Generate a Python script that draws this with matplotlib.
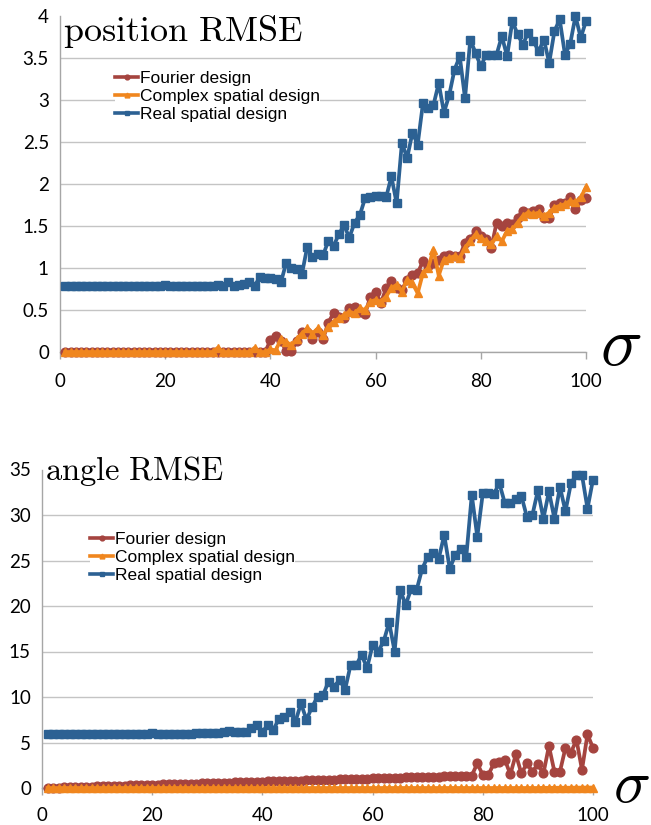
import matplotlib
matplotlib.use("Agg")
import matplotlib.pyplot as plt

plt.rcParams["mathtext.fontset"] = "cm"

SIGMA = list(range(1, 101))

LABELS = ["Fourier design", "Complex spatial design", "Real spatial design"]
COLORS = ["#a5443f", "#f0861e", "#2c6193"]
MARKERS = ["o", "^", "s"]

# position RMSE (top)
POS_FOURIER = [
    0.0, 0.0, 0.0, 0.0, 0.0, 0.0, 0.0, 0.0, 0.0, 0.0,
    0.0, 0.0, 0.0, 0.0, 0.0, 0.0, 0.0, 0.0, 0.0, 0.0,
    0.0, 0.0, 0.0, 0.0, 0.0, 0.0, 0.0, 0.0, 0.0, 0.0,
    0.0, 0.0, 0.0, 0.0, 0.0, 0.0, 0.0, 0.0, 0.0, 0.14,
    0.19, 0.13, 0.01, 0.01, 0.13, 0.24, 0.24, 0.15, 0.24, 0.15,
    0.35, 0.46, 0.42, 0.40, 0.52, 0.54, 0.48, 0.45, 0.66, 0.72,
    0.58, 0.76, 0.84, 0.76, 0.74, 0.86, 0.92, 0.94, 1.08, 1.02,
    1.06, 1.10, 1.14, 1.16, 1.14, 1.14, 1.30, 1.34, 1.44, 1.38,
    1.34, 1.24, 1.54, 1.50, 1.54, 1.52, 1.60, 1.68, 1.66, 1.68,
    1.70, 1.60, 1.60, 1.75, 1.77, 1.77, 1.85, 1.70, 1.81, 1.83,
]
POS_COMPLEX = [
    0.0, 0.0, 0.0, 0.0, 0.0, 0.0, 0.0, 0.0, 0.0, 0.0,
    0.0, 0.0, 0.0, 0.0, 0.0, 0.0, 0.0, 0.0, 0.0, 0.0,
    0.0, 0.0, 0.0, 0.0, 0.0, 0.0, 0.0, 0.0, 0.0, 0.05,
    0.0, 0.0, 0.0, 0.0, 0.0, 0.0, 0.05, 0.0, 0.0, 0.03,
    0.02, 0.15, 0.12, 0.08, 0.15, 0.22, 0.28, 0.22, 0.28, 0.20,
    0.30, 0.36, 0.40, 0.44, 0.48, 0.46, 0.52, 0.50, 0.60, 0.62,
    0.60, 0.66, 0.76, 0.80, 0.72, 0.86, 0.82, 0.70, 0.94, 1.00,
    1.22, 0.91, 1.10, 1.12, 1.14, 1.12, 1.24, 1.32, 1.40, 1.36,
    1.32, 1.28, 1.38, 1.32, 1.44, 1.46, 1.54, 1.62, 1.66, 1.64,
    1.66, 1.62, 1.66, 1.72, 1.74, 1.76, 1.80, 1.78, 1.84, 1.96,
]
POS_REAL = [
    0.78, 0.78, 0.78, 0.78, 0.78, 0.78, 0.78, 0.78, 0.78, 0.78,
    0.78, 0.78, 0.78, 0.78, 0.78, 0.78, 0.78, 0.78, 0.78, 0.80,
    0.79, 0.79, 0.78, 0.78, 0.78, 0.78, 0.78, 0.78, 0.78, 0.80,
    0.79, 0.83, 0.79, 0.80, 0.81, 0.83, 0.79, 0.89, 0.88, 0.88,
    0.87, 0.83, 1.06, 1.00, 0.99, 0.93, 1.25, 1.13, 1.17, 1.15,
    1.32, 1.26, 1.40, 1.51, 1.36, 1.54, 1.63, 1.83, 1.85, 1.86,
    1.86, 1.84, 2.09, 1.77, 2.49, 2.31, 2.61, 2.47, 2.96, 2.90,
    2.94, 3.20, 2.85, 3.06, 3.36, 3.52, 3.02, 3.72, 3.56, 3.40,
    3.54, 3.54, 3.54, 3.76, 3.52, 3.94, 3.78, 3.66, 3.80, 3.70,
    3.58, 3.72, 3.44, 3.82, 3.96, 3.54, 3.67, 4.00, 3.74, 3.94,
]

# angle RMSE (bottom)
ANG_FOURIER = [
    0.02, 0.04, 0.05, 0.07, 0.09, 0.11, 0.12, 0.14, 0.16, 0.18,
    0.19, 0.21, 0.23, 0.25, 0.26, 0.28, 0.30, 0.32, 0.33, 0.35,
    0.37, 0.39, 0.40, 0.42, 0.44, 0.46, 0.47, 0.49, 0.51, 0.53,
    0.54, 0.56, 0.58, 0.60, 0.61, 0.63, 0.65, 0.67, 0.68, 0.70,
    0.72, 0.74, 0.75, 0.77, 0.79, 0.81, 0.82, 0.84, 0.86, 0.88,
    0.89, 0.91, 0.93, 0.95, 0.96, 0.98, 1.00, 1.02, 1.03, 1.05,
    1.07, 1.09, 1.10, 1.12, 1.14, 1.16, 1.17, 1.19, 1.21, 1.23,
    1.24, 1.26, 1.28, 1.30, 1.31, 1.33, 1.35, 1.37, 2.70, 1.43,
    1.43, 2.70, 2.90, 3.10, 1.50, 3.70, 1.60, 2.70, 1.80, 2.60,
    1.60, 4.60, 1.80, 1.80, 4.40, 3.90, 5.30, 2.00, 5.90, 4.40,
]
ANG_COMPLEX = [
    0.0, 0.0, 0.0, 0.0, 0.0, 0.0, 0.0, 0.0, 0.0, 0.0,
    0.0, 0.0, 0.0, 0.0, 0.0, 0.0, 0.0, 0.0, 0.0, 0.0,
    0.0, 0.0, 0.0, 0.0, 0.0, 0.0, 0.0, 0.0, 0.0, 0.0,
    0.0, 0.0, 0.0, 0.0, 0.0, 0.0, 0.0, 0.0, 0.0, 0.0,
    0.0, 0.0, 0.0, 0.0, 0.0, 0.0, 0.0, 0.0, 0.0, 0.0,
    0.0, 0.0, 0.0, 0.0, 0.0, 0.0, 0.0, 0.0, 0.0, 0.0,
    0.0, 0.0, 0.0, 0.0, 0.0, 0.0, 0.0, 0.0, 0.0, 0.0,
    0.0, 0.0, 0.0, 0.0, 0.0, 0.0, 0.0, 0.0, 0.0, 0.0,
    0.0, 0.0, 0.0, 0.0, 0.0, 0.0, 0.0, 0.0, 0.0, 0.0,
    0.02, 0.02, 0.02, 0.03, 0.03, 0.03, 0.04, 0.04, 0.05, 0.05,
]
ANG_REAL = [
    5.9, 5.9, 5.9, 5.9, 5.9, 5.9, 5.9, 5.9, 5.9, 5.9,
    5.9, 5.9, 5.9, 5.9, 5.9, 5.9, 5.9, 5.9, 5.9, 6.0,
    5.9, 5.9, 5.9, 5.9, 5.9, 5.9, 5.9, 6.0, 6.0, 6.0,
    6.0, 6.0, 6.1, 6.3, 6.1, 6.1, 6.2, 6.6, 6.9, 6.2,
    6.9, 6.4, 7.6, 7.8, 8.4, 7.3, 9.3, 7.5, 8.9, 10.0,
    10.2, 11.7, 11.1, 11.9, 10.8, 13.5, 13.5, 14.6, 13.2, 15.7,
    15.0, 16.1, 18.2, 15.0, 21.8, 20.1, 21.9, 21.8, 24.1, 25.4,
    25.8, 25.2, 27.8, 24.1, 25.6, 26.3, 25.4, 32.2, 27.6, 32.4,
    32.4, 32.3, 33.5, 31.3, 31.3, 31.8, 32.1, 29.8, 30.0, 32.7,
    29.6, 32.6, 29.6, 33.1, 30.4, 33.5, 34.4, 34.4, 30.7, 33.9,
]

TICK_FONT = "Lato"
GRID_COLOR = "#c4c4c4"
AXIS_COLOR = "#a6a6a6"


def draw_panel(ax, series, ymax, ystep, title, title_size, title_y,
               xpad, legend_anchor, fig):
    for values, label, color, marker in zip(series, LABELS, COLORS, MARKERS):
        ax.plot(SIGMA, values, color=color, marker=marker, markersize=6.3,
                linewidth=2.7, label=label, clip_on=False, zorder=3)

    ax.set_xlim(0, 100)
    ax.set_ylim(0, ymax)
    ax.set_xticks(range(0, 101, 20))
    yt = [i * ystep for i in range(int(round(ymax / ystep)) + 1)]
    ax.set_yticks(yt)
    ax.set_yticklabels([f"{v:g}" for v in yt])
    ax.yaxis.grid(True, color=GRID_COLOR, linewidth=1.0)
    ax.set_axisbelow(True)
    ax.yaxis.get_gridlines()[-1].set_visible(False)
    for side in ("top", "right"):
        ax.spines[side].set_visible(False)
    for side in ("left", "bottom"):
        ax.spines[side].set_color(AXIS_COLOR)
        ax.spines[side].set_linewidth(1.0)
    ax.tick_params(axis="y", length=0, pad=8, labelsize=13.5)
    ax.tick_params(axis="x", length=5, width=1.0, color=AXIS_COLOR,
                   direction="out", pad=xpad, labelsize=13.5)
    for lbl in ax.get_xticklabels() + ax.get_yticklabels():
        lbl.set_fontfamily(TICK_FONT)

    ax.text(0.006, title_y, r"$\mathrm{" + title + "}$", transform=ax.transAxes,
            fontsize=title_size, ha="left", va="center", zorder=5)

    leg = ax.legend(loc="upper left", bbox_to_anchor=legend_anchor,
                    bbox_transform=fig.transFigure, frameon=True,
                    facecolor="white", edgecolor="none", framealpha=1.0,
                    borderpad=0.0, borderaxespad=0.0, handlelength=1.35,
                    handletextpad=0.1, labelspacing=0.17, markerscale=0.55,
                    prop={"family": "Liberation Sans", "size": 12.5})
    for line in leg.get_lines():
        line.set_linewidth(2.6)
    leg.set_zorder(4)


fig = plt.figure(figsize=(6.51, 8.25), dpi=100)

ax_top = fig.add_axes([60 / 651, 473 / 825, 526 / 651, 336 / 825])
draw_panel(ax_top, [POS_FOURIER, POS_COMPLEX, POS_REAL], 4, 0.5,
           r"position\ RMSE", 26, 0.955, 10, (115 / 651, 754 / 825), fig)

ax_bot = fig.add_axes([42 / 651, 37 / 825, 551 / 651, 318.5 / 825])
draw_panel(ax_bot, [ANG_FOURIER, ANG_COMPLEX, ANG_REAL], 35, 5,
           r"angle\ RMSE", 23.5, 0.995, 8.5, (90 / 651, 293 / 825), fig)

fig.text(600 / 651, 460 / 825, r"$\sigma$", fontsize=50, ha="left", va="baseline")
fig.text(613 / 651, 23 / 825, r"$\sigma$", fontsize=44, ha="left", va="baseline")

fig.savefig("out.png", dpi=100)
